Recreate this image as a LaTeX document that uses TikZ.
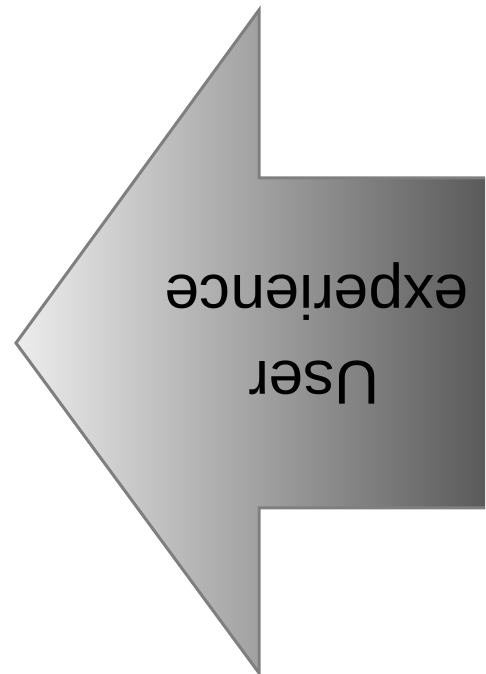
\documentclass[tikz,border=0pt]{standalone}
\usepackage{fontspec}
\setmainfont{Liberation Sans}
\definecolor{arrowedge}{HTML}{7F7F7F}
\definecolor{arrowlight}{HTML}{EDEDED}
\definecolor{arrowdark}{HTML}{585858}
\tikzset{
  arrowbody/.style={draw=arrowedge, line width=3pt, line join=miter, left color=arrowlight, right color=arrowdark, shading angle=90},
  flippedtext/.style={rotate=180, anchor=base, inner sep=0pt, font=\fontsize{62}{70}\selectfont, text=black}
}
\begin{document}
\begin{tikzpicture}[x=1pt,y=1pt]
  \useasboundingbox (0,0) rectangle (485,674);
  \clip (0,0) rectangle (485,674);
  % image y -> 674 - y
  \path[arrowbody] (16,331) -- (259,664) -- (259,496) -- (492,496) -- (492,166) -- (259,166) -- (259,1) -- cycle;
  \node[flippedtext] (experience) at (317,398) {experience};
  \node[flippedtext] (user) at (314,312) {User};
\end{tikzpicture}
\end{document}
